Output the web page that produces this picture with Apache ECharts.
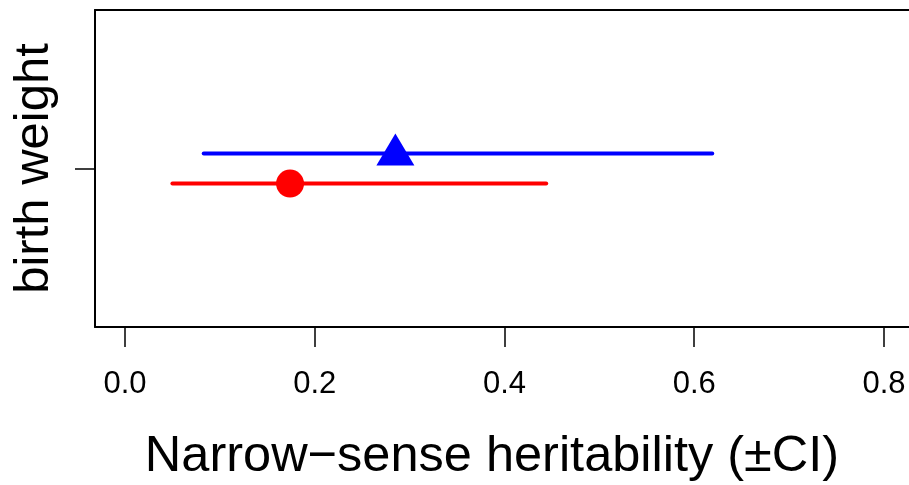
<!DOCTYPE html>
<html>
<head>
<meta charset="utf-8">
<script src="https://cdn.jsdelivr.net/npm/echarts@6/dist/echarts.min.js"></script>
<style>html,body{margin:0;padding:0;background:#fff}#c{width:909px;height:485px}</style>
</head>
<body>
<div id="c"></div>
<script>
// ---- data ----
const categories = ['birth weight'];
const seriesNames = ['blue', 'red'];
const estimates = [0.285, 0.174];
const lowerCI = [0.083, 0.050];
const upperCI = [0.619, 0.444];
const yPositions = [1.095, 0.905];   // category 1 with small dodge per series
const colors = ['#0000FF', '#FF0000'];
const symbols = ['triangle', 'circle'];
const xTicks = [0, 0.2, 0.4, 0.6, 0.8];
const xTickLabels = ['0.0', '0.2', '0.4', '0.6', '0.8'];
const xTitle = 'Narrow\u2212sense heritability (\u00B1CI)';

const FONT = 'Liberation Sans, Arial, Helvetica, sans-serif';
const chart = echarts.init(document.getElementById('c'), null, {renderer: 'canvas'});

const series = [];
seriesNames.forEach((n, i) => {
  series.push({
    type: 'line',
    name: n + ' CI',
    data: [[lowerCI[i], yPositions[i]], [upperCI[i], yPositions[i]]],
    symbol: 'none',
    lineStyle: {color: colors[i], width: 4, cap: 'round'},
    silent: true,
    animation: false,
    z: 2
  });
});
seriesNames.forEach((n, i) => {
  series.push({
    type: 'scatter',
    name: n,
    data: [[estimates[i], yPositions[i]]],
    symbol: symbols[i],
    symbolSize: symbols[i] === 'triangle' ? [38, 32] : 28,
    symbolOffset: symbols[i] === 'triangle' ? [0, -4] : [0, 0],
    itemStyle: {color: colors[i], opacity: 1},
    animation: false,
    z: 3
  });
});

const axisLineStyle = {color: '#000', width: 2};
chart.setOption({
  animation: false,
  backgroundColor: '#fff',
  title: {
    text: xTitle,
    left: 487,
    top: 427,
    textAlign: 'center',
    textStyle: {fontFamily: FONT, fontSize: 50.5, fontWeight: 'normal', color: '#000'}
  },
  grid: {
    left: 95, right: 0, top: 10, bottom: 158,
    show: false
  },
  xAxis: [{
    type: 'value',
    position: 'bottom',
    min: -0.0316, max: 0.8264,
    splitLine: {show: false},
    axisLine: {show: true, onZero: false, lineStyle: axisLineStyle},
    axisTick: {show: true, inside: false, length: 20, lineStyle: {color: '#000', width: 1.5}, customValues: xTicks},
    axisLabel: {
      customValues: xTicks,
      margin: 42,
      fontFamily: FONT, fontSize: 31, color: '#000',
      formatter: v => xTickLabels[xTicks.indexOf(Math.round(v * 10) / 10)] ?? ''
    }
  }, {
    type: 'value',
    position: 'top',
    min: -0.0316, max: 0.8264,
    splitLine: {show: false},
    axisLine: {show: true, onZero: false, lineStyle: axisLineStyle},
    axisTick: {show: false},
    axisLabel: {show: false}
  }],
  yAxis: {
    type: 'value',
    min: 0, max: 2,
    splitLine: {show: false},
    axisLine: {show: true, onZero: false, lineStyle: axisLineStyle},
    axisTick: {show: true, inside: false, length: 20, lineStyle: {color: '#000', width: 1.5}, customValues: [1]},
    axisLabel: {
      customValues: [1],
      rotate: 90,
      margin: 36,
      fontFamily: FONT, fontSize: 49, color: '#000',
      formatter: v => categories[Math.round(v) - 1] ?? ''
    }
  },
  series: series
});
</script>
</body>
</html>
